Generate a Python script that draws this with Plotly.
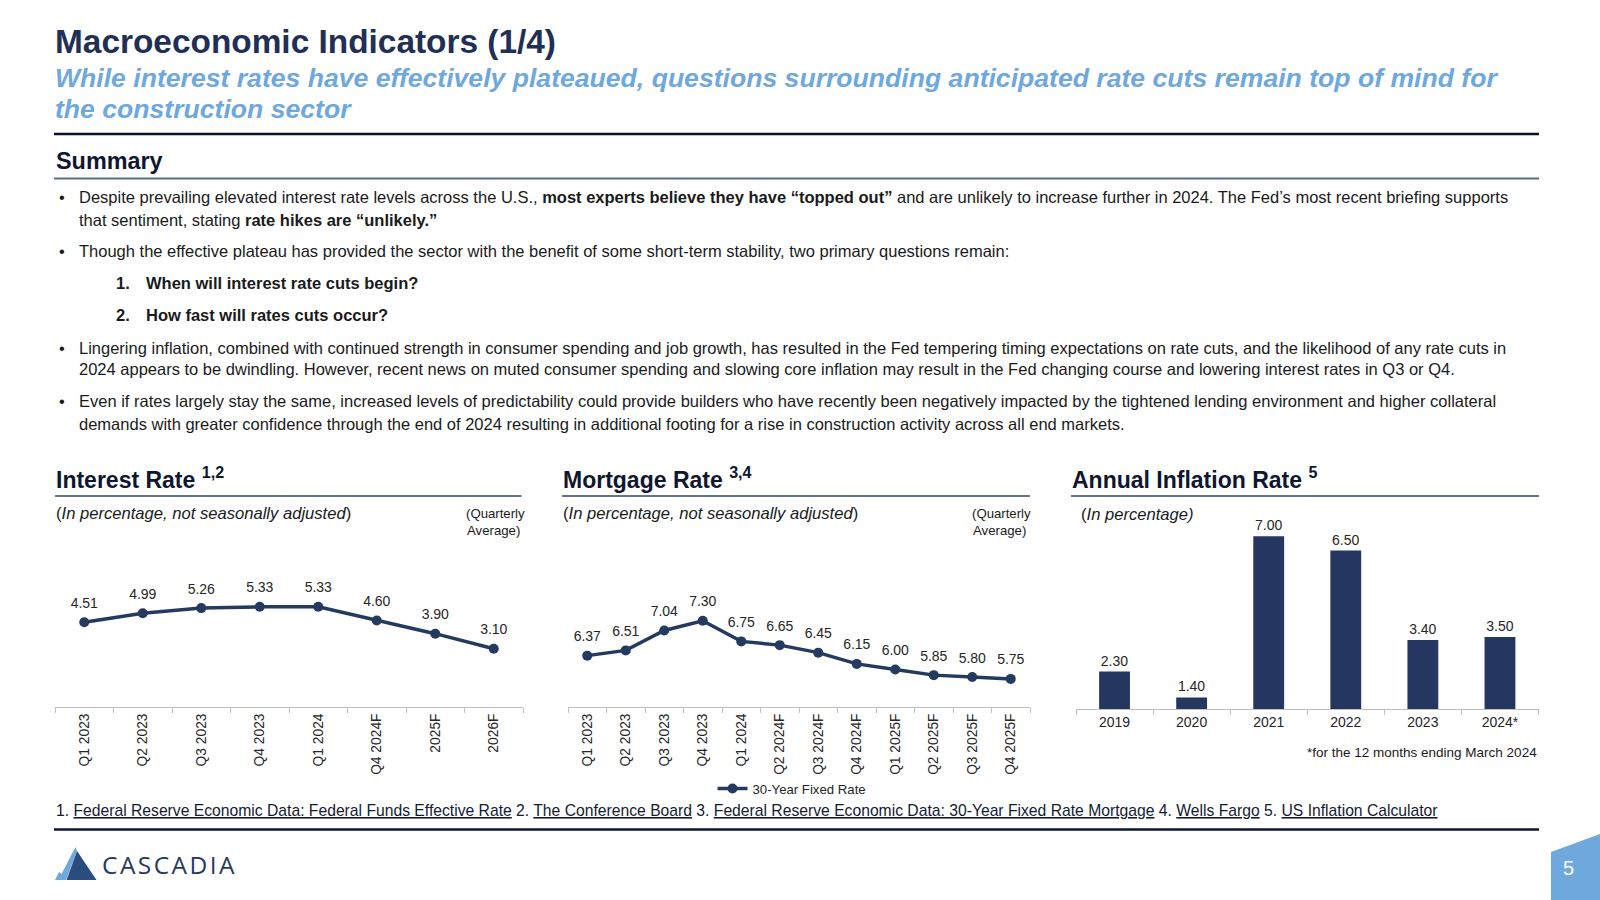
import plotly.graph_objects as go

W, H = 1600, 900
FONT = "Liberation Sans, Arial, sans-serif"
NAVY = "#243A5E"
TITLE_NAVY = "#1F2F56"
DARK = "#0E1630"
TXT = "#1A1A1A"
LBL = "#262626"
BLUE = "#6FA8DC"
AXIS = "#BFBFBF"

# ---------------- data ----------------
interest_labels = ["Q1 2023", "Q2 2023", "Q3 2023", "Q4 2023", "Q1 2024", "Q4 2024F", "2025F", "2026F"]
interest_values = [4.51, 4.99, 5.26, 5.33, 5.33, 4.60, 3.90, 3.10]

mortgage_labels = ["Q1 2023", "Q2 2023", "Q3 2023", "Q4 2023", "Q1 2024", "Q2 2024F",
                   "Q3 2024F", "Q4 2024F", "Q1 2025F", "Q2 2025F", "Q3 2025F", "Q4 2025F"]
mortgage_values = [6.37, 6.51, 7.04, 7.30, 6.75, 6.65, 6.45, 6.15, 6.00, 5.85, 5.80, 5.75]

inflation_years = ["2019", "2020", "2021", "2022", "2023", "2024*"]
inflation_values = [2.30, 1.40, 7.00, 6.50, 3.40, 3.50]


def px(x):
    return x / W


def py(y):
    return 1 - y / H


fig = go.Figure()

# ---------------- Interest rate ----------------
fig.add_trace(go.Scatter(
    x=interest_labels, y=interest_values, mode="lines+markers",
    line=dict(color=NAVY, width=3.5), marker=dict(size=10, color=NAVY),
    xaxis="x", yaxis="y", showlegend=False, cliponaxis=False, hoverinfo="skip"))
fig.add_trace(go.Scatter(
    x=interest_labels, y=interest_values, mode="markers+text",
    text=[f"{v:.2f}" for v in interest_values], textposition="top center",
    textfont=dict(size=14, color=LBL, family=FONT),
    marker=dict(size=16, color="rgba(0,0,0,0)"),
    xaxis="x", yaxis="y", showlegend=False, cliponaxis=False, hoverinfo="skip"))

# ---------------- Mortgage rate ----------------
fig.add_trace(go.Scatter(
    x=mortgage_labels, y=mortgage_values, mode="lines+markers", name="30-Year Fixed Rate",
    line=dict(color=NAVY, width=3.5), marker=dict(size=10, color=NAVY),
    xaxis="x2", yaxis="y2", showlegend=True, cliponaxis=False, hoverinfo="skip"))
fig.add_trace(go.Scatter(
    x=mortgage_labels, y=mortgage_values, mode="markers+text",
    text=[f"{v:.2f}" for v in mortgage_values], textposition="top center",
    textfont=dict(size=14, color=LBL, family=FONT),
    marker=dict(size=16, color="rgba(0,0,0,0)"),
    xaxis="x2", yaxis="y2", showlegend=False, cliponaxis=False, hoverinfo="skip"))

# ---------------- Inflation ----------------
fig.add_trace(go.Bar(
    x=inflation_years, y=inflation_values, marker=dict(color="#253760", line=dict(width=0)),
    text=[f"{v:.2f}" for v in inflation_values], textposition="outside", constraintext="none",
    textfont=dict(size=14, color=LBL, family=FONT),
    xaxis="x3", yaxis="y3", showlegend=False, cliponaxis=False, hoverinfo="skip"))

xcommon = dict(type="category", showline=True, linecolor=AXIS, linewidth=1, ticks="outside",
               tickson="boundaries", ticklen=5, tickcolor=AXIS, showgrid=False, zeroline=False,
               tickfont=dict(size=13.8, color=LBL, family=FONT), fixedrange=True)

fig.update_layout(
    xaxis=dict(xcommon, domain=[px(55), px(523)], anchor="y", tickangle=-90,
               range=[-0.5, len(interest_labels) - 0.5]),
    yaxis=dict(domain=[py(707), py(707 - 18.8 * 7)], range=[0, 7], visible=False, anchor="x",
               fixedrange=True),
    xaxis2=dict(xcommon, domain=[px(568), px(1030)], anchor="y2", tickangle=-90,
                range=[-0.5, len(mortgage_labels) - 0.5]),
    yaxis2=dict(domain=[py(707), py(707 - 37.5 * 2.8)], range=[5, 7.8], visible=False, anchor="x2",
                fixedrange=True),
    xaxis3=dict(xcommon, domain=[px(1076), px(1538.5)], anchor="y3", tickangle=0,
                tickfont=dict(size=14, color=LBL, family=FONT),
                range=[-0.5, len(inflation_years) - 0.5]),
    yaxis3=dict(domain=[py(709), py(709 - 28.8 * 7)], range=[1, 8], visible=False, anchor="x3",
                fixedrange=True),
    bargap=0.6,
)

# ---------------- shapes ----------------
shapes = []


def hline(x0, x1, y, color, width):
    shapes.append(dict(type="line", xref="paper", yref="paper", x0=px(x0), x1=px(x1),
                       y0=py(y), y1=py(y), line=dict(color=color, width=width)))


def poly(points, color):
    d = "M " + " L ".join(f"{px(x):.5f},{py(y):.5f}" for x, y in points) + " Z"
    shapes.append(dict(type="path", xref="paper", yref="paper", path=d,
                       fillcolor=color, line=dict(width=0)))


hline(54, 1539, 134, "#0A1030", 2.5)
hline(54, 1539, 178.6, "#5B6B8C", 2)
hline(55, 521.5, 496, "#2E4470", 1.5)
hline(562, 1030, 496, "#2E4470", 1.5)
hline(1071, 1539, 496, "#2E4470", 1.5)
hline(54, 1539, 829.6, "#0D1433", 2.5)

# logo mark
poly([(55, 880), (59, 872), (61.5, 874), (75.5, 847), (77, 851), (66, 880)], "#6FA8DC")
poly([(77, 851), (96.5, 880), (66.5, 880)], "#2B4C7E")
# page badge
poly([(1551, 852), (1600, 834), (1600, 900), (1551, 900)], BLUE)

fig.update_layout(shapes=shapes)

# ---------------- text ----------------
ann = []


def text(x, y, s, size, color=TXT, anchor="left", family=FONT):
    ann.append(dict(xref="paper", yref="paper", x=px(x), y=py(y), text=s, showarrow=False,
                    xanchor=anchor, yanchor="middle", align=anchor,
                    font=dict(size=size, color=color, family=family)))


text(53, 42, "<b>Macroeconomic Indicators (1/4)</b>", 33.4, TITLE_NAVY)
text(53, 77.5, "<b><i>While interest rates have effectively plateaued, questions surrounding anticipated rate cuts remain top of mind for</i></b>", 26.6, BLUE)
text(53, 109, "<b><i>the construction sector</i></b>", 26.6, BLUE)

text(54, 161, "<b>Summary</b>", 23.4, DARK)

BODY = 16.5
bx, tx = 57, 76.5
text(bx, 197, "•", BODY)
text(tx, 197, "Despite prevailing elevated interest rate levels across the U.S., <b>most experts believe they have “topped out”</b> and are unlikely to increase further in 2024. The Fed’s most recent briefing supports", BODY)
text(tx, 220.4, "that sentiment, stating <b>rate hikes are “unlikely.”</b>", BODY)
text(bx, 251, "•", BODY)
text(tx, 251, "Though the effective plateau has provided the sector with the benefit of some short-term stability, two primary questions remain:", BODY)
text(114, 282.7, "<b>1.</b>", BODY)
text(143.5, 282.7, "<b>When will interest rate cuts begin?</b>", BODY)
text(114, 315.3, "<b>2.</b>", BODY)
text(143.5, 315.3, "<b>How fast will rates cuts occur?</b>", BODY)
text(bx, 348, "•", BODY)
text(tx, 348, "Lingering inflation, combined with continued strength in consumer spending and job growth, has resulted in the Fed tempering timing expectations on rate cuts, and the likelihood of any rate cuts in", BODY)
text(tx, 369.4, "2024 appears to be dwindling. However, recent news on muted consumer spending and slowing core inflation may result in the Fed changing course and lowering interest rates in Q3 or Q4.", BODY)
text(bx, 401, "•", BODY)
text(tx, 401, "Even if rates largely stay the same, increased levels of predictability could provide builders who have recently been negatively impacted by the tightened lending environment and higher collateral", BODY)
text(tx, 423.5, "demands with greater confidence through the end of 2024 resulting in additional footing for a rise in construction activity across all end markets.", BODY)

# chart headers
text(54, 477.5, "<b>Interest Rate <sup>1,2</sup></b>", 23, DARK)
text(561, 477.5, "<b>Mortgage Rate <sup>3,4</sup></b>", 23, DARK)
text(1070, 477.5, "<b>Annual Inflation Rate <sup>5</sup></b>", 23, DARK)

text(54, 513, "(<i>In percentage, not seasonally adjusted</i>)", 16.6, TXT)
text(561, 513, "(<i>In percentage, not seasonally adjusted</i>)", 16.6, TXT)
text(1079, 514, "(<i>In percentage)</i>", 16.6, TXT)
text(464, 513, "(Quarterly", 13.2, TXT)
text(465, 530.5, "Average)", 13.2, TXT)
text(970, 513, "(Quarterly", 13.2, TXT)
text(971, 530.5, "Average)", 13.2, TXT)
text(1538.5, 752, "*for the 12 months ending March 2024", 13.5, TXT, anchor="right")

# sources
text(54, 810, "1. <u>Federal Reserve Economic Data: Federal Funds Effective Rate</u> 2. <u>The Conference Board</u> 3. <u>Federal Reserve Economic Data: 30-Year Fixed Rate Mortgage</u> 4. <u>Wells Fargo</u> 5. <u>US Inflation Calculator</u>", 15.7, "#141B33")

# logo text
text(100, 864, "C\u200aA\u200aS\u200aC\u200aA\u200aD\u200aI\u200aA", 24.5, "#263A5C", family="Open Sans, Liberation Sans, sans-serif")
# page number
text(1568, 868, "5", 20, "#FFFFFF", anchor="center")

fig.update_layout(
    annotations=ann,
    width=W, height=H,
    margin=dict(l=0, r=0, t=0, b=0),
    paper_bgcolor="white", plot_bgcolor="white",
    font=dict(family=FONT, color=TXT),
    legend=dict(x=px(792), y=py(789), xanchor="center", yanchor="middle", orientation="h",
                font=dict(size=13.2, color=LBL, family=FONT), bgcolor="rgba(0,0,0,0)",
                itemwidth=30),
)

fig.write_html("out.html", config={"displayModeBar": False},
               post_script="document.body.style.margin='0';document.body.style.overflow='hidden';")
